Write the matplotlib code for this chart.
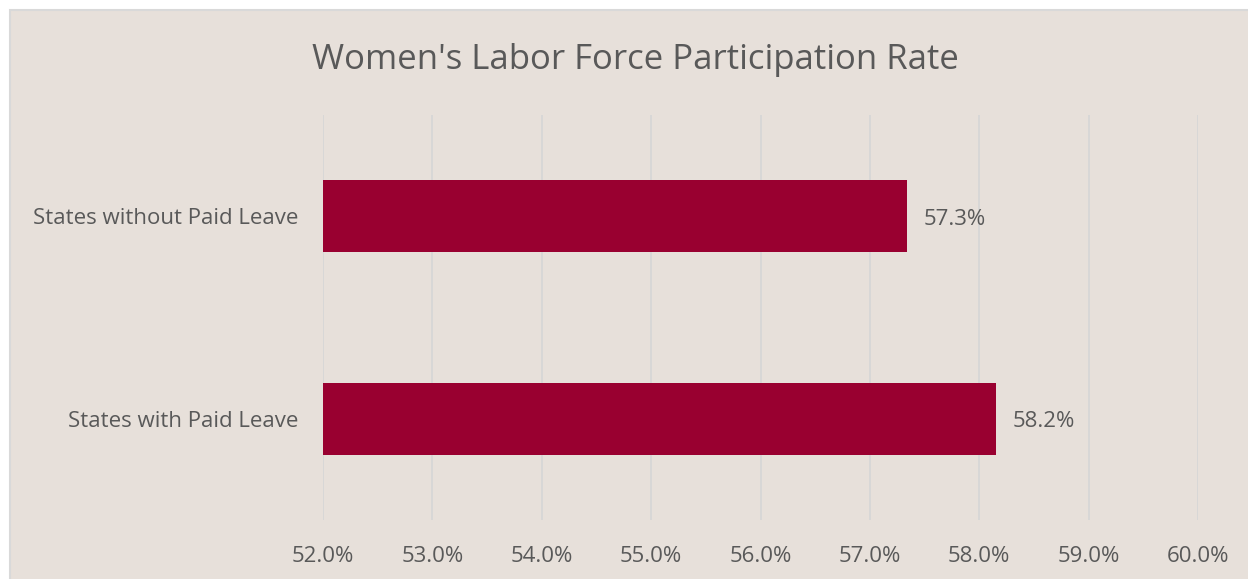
import matplotlib.pyplot as plt
from matplotlib.patches import Rectangle
from matplotlib.ticker import FuncFormatter

# Datos
categorias = ['States with Paid Leave', 'States without Paid Leave']
valores = [58.15, 57.34]
etiquetas = ['58.2%', '57.3%']
ticks_x = [52, 53, 54, 55, 56, 57, 58, 59, 60]

fondo = '#E7E0DA'
rojo = '#990030'
gris_texto = '#595959'

plt.rcParams['font.family'] = ['Open Sans', 'DejaVu Sans']

fig = plt.figure(figsize=(12.48, 5.79), dpi=100)
fig.patch.set_facecolor('white')

# Marco del gráfico (recortado a la derecha y abajo)
fig.patches.append(Rectangle((10 / 1248, -0.1), 1.2, 1 - 10 / 579 + 0.1,
                             transform=fig.transFigure, facecolor=fondo,
                             edgecolor='#D9D9D9', linewidth=1.5, zorder=-5))

ax = fig.add_axes([323 / 1248, 1 - 520 / 579, (1198 - 323) / 1248, (520 - 115) / 579])
ax.set_facecolor('none')
ax.set_zorder(2)

pos = range(len(categorias))
ax.barh(pos, [v - 52 for v in valores], left=52, height=0.355, color=rojo, zorder=3)

for i, (v, txt) in enumerate(zip(valores, etiquetas)):
    ax.annotate(txt, (v, i), textcoords='offset points', xytext=(12, -2),
                va='center', ha='left', fontsize=16, color=gris_texto)

ax.set_xlim(52, 60)
ax.set_ylim(-0.5, 1.5)
ax.set_xticks(ticks_x)
ax.xaxis.set_major_formatter(FuncFormatter(lambda x, p: f'{x:.1f}%'))
ax.set_yticks(list(pos))
ax.set_yticklabels(categorias)
ax.tick_params(axis='x', length=0, pad=19, labelsize=16, labelcolor=gris_texto)
ax.tick_params(axis='y', length=0, pad=18, labelsize=16, labelcolor=gris_texto)
ax.grid(axis='x', color='#D6D6D6', linewidth=1.2, zorder=0)
ax.set_axisbelow(True)
for s in ax.spines.values():
    s.set_visible(False)

fig.text(635 / 1248, 1 - 60 / 579, "Women's Labor Force Participation Rate",
         ha='center', va='center', fontsize=25, color=gris_texto)

fig.savefig('out.png', dpi=100, facecolor=fig.get_facecolor())
